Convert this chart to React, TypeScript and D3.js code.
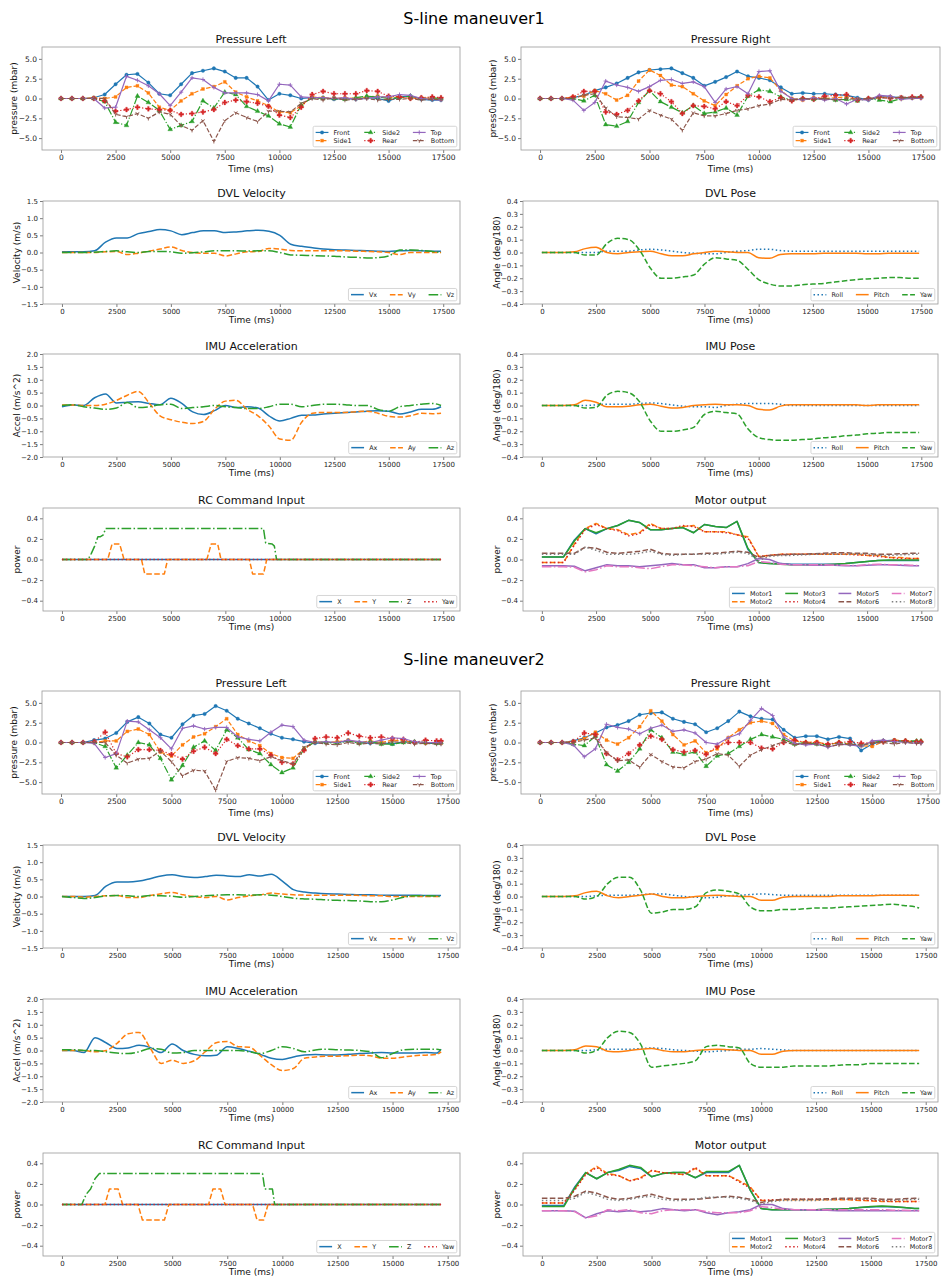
import { useEffect, useRef } from 'react';
import * as d3 from 'd3';

// time bases (ms)
const TIME_M1 = [0, 500, 1000, 1500, 2000, 2500, 3000, 3500, 4000, 4500, 5000, 5500, 6000, 6500, 7000, 7500, 8000, 8500, 9000, 9500, 10000, 10500, 11000, 11500, 12000, 12500, 13000, 13500, 14000, 14500, 15000, 15500, 16000, 16500, 17000, 17400];
const TIME_M2 = [0, 500, 1000, 1500, 2000, 2500, 3000, 3500, 4000, 4500, 5000, 5500, 6000, 6500, 7000, 7500, 8000, 8500, 9000, 9500, 10000, 10500, 11000, 11500, 12000, 12500, 13000, 13500, 14000, 14500, 15000, 15500, 16000, 16500, 17000, 17200];

// ---------- S-line maneuver1 ----------
const M1_PL_FRONT = [0, 0, 0, 0.1, 0.5, 1.8, 3.0, 3.1, 2.0, 0.6, 0.4, 1.8, 3.2, 3.5, 3.8, 3.4, 2.6, 2.6, 1.5, -0.2, 0.6, 0.4, 0.0, 0.1, 0.1, -0.1, 0.0, -0.1, 0.1, 0.0, -0.3, 0.2, 0.3, -0.1, -0.2, -0.2];
const M1_PL_SIDE1 = [0, 0, 0, 0.1, 0, 0.2, 1.4, 1.6, 0.7, -1.1, -1.5, -0.3, 0.6, 1.2, 1.5, 2.1, 0.8, 0.2, -0.3, -0.9, -1.7, -1.8, -0.9, 0.2, 0.1, 0.0, 0.1, 0.0, 0.2, 0.3, 0.1, 0.2, 0.0, 0.1, 0.0, -0.1];
const M1_PL_SIDE2 = [0, 0, 0, 0, -0.4, -3.0, -3.4, 0.3, -0.5, -1.5, -3.9, -3.4, -2.9, -0.3, -1.2, 0.8, 0.5, -1.0, -1.6, -2.2, -3.2, -3.6, -0.8, 0.1, 0.0, 0.0, -0.1, 0.1, 0.3, 0.2, 0.0, 0.1, 0.3, 0.0, 0.1, 0.0];
const M1_PL_REAR = [0, 0, 0, 0, -0.3, -1.6, -1.4, -1.1, -1.3, -1.4, -1.5, -2.0, -1.9, -1.7, -1.4, -0.5, -0.2, -0.4, -0.6, -1.0, -2.1, -2.4, -1.1, 0.5, 0.9, 0.6, 0.6, 0.6, 1.0, 0.9, 0.3, 0.2, 0.0, 0.1, 0.2, 0.1];
const M1_PL_TOP = [0, 0, 0, 0, -1.2, -1.1, 2.8, 2.3, 1.6, 0.6, -0.9, 0.8, 2.6, 2.4, 1.4, 0.7, 0.7, 0.7, 0.5, -0.3, 1.8, 1.7, 0.2, 0.1, 0.1, 0.0, 0.1, -0.1, 0.0, 0.2, 0.2, 0.5, 0.4, 0.0, -0.1, -0.2];
const M1_PL_BOTTOM = [0, 0, 0, 0, 0, -2.0, -2.3, -1.9, -2.5, -1.7, -2.0, -3.4, -4.0, -2.8, -5.4, -2.8, -1.8, -2.4, -2.9, -1.6, -1.6, -1.7, -0.6, 0.0, -0.2, 0.1, -0.2, -0.1, 0.0, -0.2, -0.1, -0.1, 0.0, -0.2, -0.1, -0.1];

const M1_PR_FRONT = [0, 0, 0, 0.1, 0.4, 1.0, 1.4, 1.9, 2.6, 3.3, 3.6, 3.7, 3.8, 3.2, 2.6, 1.6, 2.1, 2.7, 3.4, 2.8, 2.6, 2.3, 1.4, 0.6, 0.7, 0.6, 0.6, 0.5, 0.4, 0.1, -0.2, 0.2, 0.2, 0.1, 0.1, 0.2];
const M1_PR_SIDE1 = [0, 0, 0, 0.2, 0.3, 1.0, 0.6, -0.2, 0.4, 2.2, 3.6, 2.9, 1.7, 1.5, 0.6, -0.3, -0.9, 0.5, 1.6, 2.5, 2.8, 2.6, 1.0, 0.0, -0.2, 0.1, 0.0, 0.1, 0.2, -0.1, -0.1, 0.1, 0.2, 0.0, 0.1, 0.1];
const M1_PR_SIDE2 = [0, 0, 0, 0, -0.3, 0.4, -3.3, -3.5, -2.9, -0.5, 1.0, -0.4, -1.1, -1.8, -0.9, -1.9, -1.7, -1.2, -2.1, 0.3, 1.1, 0.9, 0.2, -0.2, 0.0, -0.1, 0.0, -0.2, -0.1, -0.3, 0.0, -0.2, -0.4, 0.0, 0.1, 0.2];
const M1_PR_REAR = [0, 0, 0, 0.2, 0.9, 0.9, -1.7, -2.0, -1.5, -0.3, 1.0, 0.6, -0.4, -1.9, -0.9, -1.0, -1.3, -0.4, -0.9, 0.4, 0.2, -0.4, 0.1, -0.3, 0.0, -0.1, 0.3, 0.4, 0.5, -0.2, 0.0, 0.2, 0.0, 0.1, 0.2, 0.2];
const M1_PR_TOP = [0, 0, 0, -0.2, -1.5, -0.5, 2.2, 1.7, 1.4, 0.9, 1.5, 2.3, 2.4, 1.9, 2.1, 1.5, -0.5, 1.2, 1.5, 0.6, 3.4, 3.5, 0.9, 0.0, -0.2, 0.1, -0.2, 0.0, -0.7, -0.1, -0.2, 0.4, 0.3, -0.1, 0.0, 0.0];
const M1_PR_BOTTOM = [0, 0, 0, 0, 0.4, 0.6, -1.2, -2.3, -2.4, -2.6, -1.5, -2.1, -2.6, -4.0, -1.8, -2.2, -2.2, -1.9, -1.5, -1.3, -0.9, -0.7, -0.1, -0.2, 0.0, -0.1, 0.0, -0.2, 0.0, -0.1, 0.0, 0.1, 0.0, 0.2, 0.1, 0.1];

const M1_DVL_VX = [0.02, 0.02, 0.02, 0.05, 0.3, 0.42, 0.42, 0.55, 0.61, 0.67, 0.63, 0.52, 0.58, 0.63, 0.63, 0.58, 0.6, 0.63, 0.65, 0.62, 0.5, 0.24, 0.18, 0.14, 0.1, 0.08, 0.07, 0.06, 0.05, 0.04, 0.03, 0.05, 0.06, 0.05, 0.04, 0.04];
const M1_DVL_VY = [0, 0, 0, 0, 0.02, 0.03, -0.06, -0.02, 0.04, 0.1, 0.16, 0.06, 0.0, -0.02, -0.02, -0.1, -0.04, 0.02, 0.03, 0.12, 0.1, 0.06, 0.05, 0.05, 0.05, 0.05, 0.05, 0.04, 0.03, 0.02, 0.0, -0.06, 0.0, 0.0, 0.0, 0.0];
const M1_DVL_VZ = [0, 0, 0, 0.01, 0.03, 0.05, 0.02, 0.0, 0.03, 0.03, 0.02, -0.02, -0.01, 0.02, 0.05, 0.05, 0.05, 0.04, 0.05, 0.05, 0.0, -0.07, -0.08, -0.09, -0.1, -0.11, -0.13, -0.14, -0.16, -0.15, -0.1, 0.07, 0.07, 0.06, 0.03, 0.0];

const M1_DVL_ROLL = [0, 0, 0, 0, 0, 0, 0.01, 0.01, 0.01, 0.02, 0.025, 0.02, 0.01, 0, -0.005, -0.01, -0.01, 0, 0.01, 0.015, 0.025, 0.025, 0.015, 0.01, 0.01, 0.01, 0.01, 0.01, 0.01, 0.01, 0.01, 0.01, 0.01, 0.01, 0.01, 0.01];
const M1_DVL_PITCH = [0, 0, 0, 0.005, 0.03, 0.04, 0.0, -0.01, 0.0, 0.005, 0.01, -0.01, -0.025, -0.025, -0.01, 0.0, 0.01, 0.005, 0.0, 0.0, -0.04, -0.045, -0.015, -0.01, -0.01, -0.01, -0.005, -0.005, -0.005, -0.005, -0.01, -0.01, -0.005, -0.005, -0.005, -0.005];
const M1_DVL_YAW = [0, 0, 0, 0, -0.02, -0.02, 0.07, 0.11, 0.1, 0.02, -0.12, -0.2, -0.2, -0.19, -0.175, -0.09, -0.04, -0.05, -0.06, -0.13, -0.21, -0.245, -0.26, -0.26, -0.25, -0.245, -0.24, -0.23, -0.22, -0.21, -0.205, -0.2, -0.195, -0.195, -0.2, -0.2];

const M1_IMU_AX = [-0.05, 0.02, 0.0, 0.3, 0.45, 0.1, 0.13, 0.15, 0.08, 0.03, 0.28, 0.08, -0.25, -0.35, -0.2, 0.0, -0.08, -0.05, -0.1, -0.4, -0.6, -0.5, -0.38, -0.37, -0.33, -0.3, -0.27, -0.25, -0.22, -0.2, -0.22, -0.33, -0.25, -0.15, -0.15, -0.05];
const M1_IMU_AY = [0.02, 0.02, 0.0, 0.0, 0.05, 0.2, 0.4, 0.55, 0.1, -0.4, -0.55, -0.65, -0.7, -0.62, -0.15, 0.17, 0.2, -0.15, -0.4, -0.8, -1.3, -1.35, -0.65, -0.3, -0.27, -0.27, -0.27, -0.24, -0.22, -0.3, -0.42, -0.45, -0.4, -0.3, -0.32, -0.3];
const M1_IMU_AZ = [0.0, 0.03, -0.05, -0.1, -0.15, -0.1, 0.12, -0.08, -0.05, 0.03, 0.05, -0.12, -0.08, -0.05, 0.0, -0.05, -0.08, -0.12, -0.12, -0.05, 0.05, 0.05, -0.05, 0.0, 0.05, 0.05, 0.03, 0.0, 0.0, -0.15, -0.22, -0.05, 0.0, 0.05, 0.08, 0.0];

const M1_IMU_ROLL = [0, 0, 0, 0, 0, 0.005, 0.01, 0.01, 0.01, 0.015, 0.02, 0.015, 0.005, -0.005, -0.01, -0.01, -0.015, 0, 0.01, 0.015, 0.015, 0.015, 0.01, 0, 0, 0, 0, 0, 0, 0, 0, 0, 0, 0, 0, 0];
const M1_IMU_PITCH = [0, 0, 0, 0.005, 0.04, 0.025, -0.01, -0.01, -0.005, 0.005, 0.01, -0.005, -0.02, -0.015, 0.0, 0.005, 0.01, 0.005, 0.005, 0.0, -0.03, -0.035, -0.005, 0.005, 0.005, 0.005, 0.005, 0.005, 0.005, 0.005, 0.0, 0.005, 0.005, 0.005, 0.005, 0.005];
const M1_IMU_YAW = [0, 0, 0, 0, -0.02, -0.015, 0.08, 0.11, 0.1, 0.03, -0.12, -0.2, -0.2, -0.19, -0.17, -0.07, -0.045, -0.055, -0.065, -0.18, -0.25, -0.265, -0.27, -0.27, -0.265, -0.26, -0.25, -0.245, -0.235, -0.23, -0.22, -0.215, -0.21, -0.21, -0.21, -0.21];

const M1_RC_X_T = [0, 17400];
const M1_RC_X = [0, 0];
const M1_RC_Y_T = [0, 2100, 2300, 2650, 2850, 3650, 3800, 4700, 4850, 6650, 6850, 7150, 7300, 8600, 8750, 9250, 9400, 17400];
const M1_RC_Y = [0, 0, 0.15, 0.15, 0, 0, -0.14, -0.14, 0, 0, 0.15, 0.15, 0, 0, -0.14, -0.14, 0, 0];
const M1_RC_Z_T = [0, 1200, 1350, 1500, 1650, 1750, 1900, 2000, 9250, 9350, 9650, 9750, 9850, 17400];
const M1_RC_Z = [0, 0, 0.06, 0.13, 0.22, 0.22, 0.24, 0.3, 0.3, 0.16, 0.15, 0.13, 0, 0];
const M1_RC_YAW_T = [0, 17400];
const M1_RC_YAW = [0, 0];

const M1_MOTOR1 = [0.025, 0.025, 0.025, 0.19, 0.3, 0.25, 0.3, 0.33, 0.38, 0.36, 0.29, 0.29, 0.3, 0.31, 0.26, 0.34, 0.32, 0.31, 0.37, 0.1, -0.03, -0.04, -0.04, -0.045, -0.045, -0.045, -0.045, -0.045, -0.04, -0.03, -0.02, -0.01, -0.01, -0.01, -0.01, -0.01];
const M1_MOTOR2 = [-0.03, -0.03, -0.03, 0.15, 0.3, 0.35, 0.3, 0.29, 0.24, 0.26, 0.35, 0.3, 0.3, 0.32, 0.33, 0.27, 0.27, 0.27, 0.24, 0.22, 0.03, 0.04, 0.05, 0.05, 0.05, 0.05, 0.05, 0.05, 0.05, 0.05, 0.04, 0.04, 0.02, 0.02, 0.01, 0.01];
const M1_MOTOR3 = [0.025, 0.025, 0.025, 0.18, 0.3, 0.26, 0.3, 0.33, 0.38, 0.36, 0.29, 0.29, 0.3, 0.31, 0.26, 0.34, 0.32, 0.31, 0.37, 0.11, -0.03, -0.04, -0.045, -0.05, -0.05, -0.05, -0.05, -0.045, -0.04, -0.03, -0.02, -0.01, -0.005, -0.005, -0.005, -0.005];
const M1_MOTOR4 = [-0.03, -0.03, -0.03, 0.14, 0.29, 0.34, 0.3, 0.28, 0.23, 0.25, 0.34, 0.3, 0.3, 0.33, 0.32, 0.27, 0.27, 0.26, 0.24, 0.21, 0.03, 0.04, 0.05, 0.05, 0.05, 0.05, 0.05, 0.05, 0.05, 0.045, 0.04, 0.03, 0.02, 0.01, 0.01, 0.01];
const M1_MOTOR5 = [-0.06, -0.06, -0.06, -0.065, -0.11, -0.08, -0.05, -0.06, -0.06, -0.07, -0.06, -0.05, -0.04, -0.05, -0.05, -0.08, -0.08, -0.07, -0.07, -0.04, 0.01, 0.0, -0.04, -0.05, -0.05, -0.055, -0.055, -0.055, -0.06, -0.06, -0.055, -0.05, -0.05, -0.055, -0.06, -0.06];
const M1_MOTOR6 = [0.06, 0.06, 0.06, 0.06, 0.12, 0.11, 0.07, 0.06, 0.07, 0.08, 0.1, 0.06, 0.05, 0.05, 0.05, 0.06, 0.06, 0.07, 0.08, 0.07, 0.02, 0.04, 0.045, 0.05, 0.05, 0.055, 0.06, 0.065, 0.065, 0.06, 0.06, 0.05, 0.05, 0.055, 0.06, 0.06];
const M1_MOTOR7 = [-0.07, -0.07, -0.07, -0.075, -0.12, -0.1, -0.06, -0.07, -0.07, -0.08, -0.09, -0.07, -0.05, -0.05, -0.06, -0.07, -0.08, -0.07, -0.07, -0.06, -0.02, -0.03, -0.045, -0.05, -0.05, -0.05, -0.05, -0.055, -0.055, -0.06, -0.05, -0.045, -0.05, -0.05, -0.055, -0.06];
const M1_MOTOR8 = [0.05, 0.05, 0.05, 0.05, 0.12, 0.09, 0.05, 0.05, 0.05, 0.06, 0.08, 0.05, 0.04, 0.05, 0.05, 0.05, 0.05, 0.06, 0.07, 0.06, -0.01, 0.03, 0.04, 0.04, 0.045, 0.05, 0.05, 0.05, 0.05, 0.05, 0.05, 0.04, 0.04, 0.045, 0.05, 0.05];

// ---------- S-line maneuver2 ----------
const M2_PL_FRONT = [0, 0, 0, 0.3, 0.5, 1.2, 2.6, 3.2, 2.4, 1.0, 0.6, 2.3, 3.4, 3.6, 4.6, 4.0, 3.0, 2.4, 1.8, 1.1, 0.6, 0.4, 0.1, -0.1, 0.0, 0.0, 0.2, 0.0, -0.1, 0.0, -0.2, 0.1, 0.0, -0.1, -0.1, -0.1];
const M2_PL_SIDE1 = [0, 0, 0, 0, 0.2, 0.2, 1.4, 1.7, 1.0, -1.2, -1.7, -0.3, 0.7, 1.1, 2.0, 3.0, 1.0, 0.2, -0.4, -1.4, -1.9, -2.0, -0.8, 0.1, 0.0, 0.1, 0.3, 0.0, 0.2, 0.0, 0.3, 0.2, 0.0, -0.1, 0.0, -0.1];
const M2_PL_SIDE2 = [0, 0, 0, 0, -0.5, -3.2, -1.6, 0.0, -0.3, -2.0, -4.7, -2.9, -0.6, 0.2, -1.0, 1.6, 0.6, -0.9, -1.4, -2.8, -3.8, -3.2, -0.8, 0.1, 0.0, -0.1, 0.2, -0.1, 0.1, -0.2, -0.2, 0.0, 0.1, 0.0, -0.1, 0.0];
const M2_PL_REAR = [0, 0, 0, 0.1, 1.3, -1.4, -1.8, -0.9, -0.9, -1.0, -1.5, -2.1, -1.1, -0.6, -1.4, 0.4, -0.4, -0.8, -0.8, -1.6, -2.5, -2.7, -1.0, 0.5, 0.7, 0.6, 1.2, 0.8, 0.6, 0.7, 0.5, 0.4, 0.0, 0.3, 0.2, 0.2];
const M2_PL_TOP = [0, 0, 0, -0.1, -1.9, -1.4, 2.7, 2.6, 1.6, 0.6, -0.8, 1.8, 2.1, 1.7, 1.9, 1.9, 0.7, 0.4, 0.2, 1.3, 2.2, 2.0, 0.3, 0.0, 0.1, 0.0, 0.3, 0.1, 0.0, 0.3, 0.6, 0.5, 0.1, 0.0, 0.0, -0.1];
const M2_PL_BOTTOM = [0, 0, 0, 0, 0, -1.6, -2.6, -2.1, -2.0, -1.1, -2.4, -4.2, -3.5, -3.6, -6.0, -2.4, -1.9, -2.0, -2.3, -1.8, -2.3, -2.7, -0.6, 0.0, -0.2, -0.3, 0.0, -0.2, -0.1, -0.2, 0.1, 0.0, -0.2, -0.1, -0.2, -0.2];

const M2_PR_FRONT = [0, 0, 0, 0.2, 0.6, 1.2, 1.9, 2.2, 2.7, 3.5, 3.7, 3.8, 3.0, 2.6, 2.3, 1.3, 1.8, 2.7, 3.9, 3.3, 3.0, 2.9, 1.6, 0.6, 0.8, 0.8, 0.4, 0.7, 0.5, -1.0, -0.2, 0.2, 0.3, 0.1, 0.1, 0.0];
const M2_PR_SIDE1 = [0, 0, 0, 0.1, 0.5, 1.3, 0.3, -0.2, 0.6, 2.0, 4.0, 2.7, 1.0, -0.3, 0.2, -1.3, -0.8, 0.6, 1.6, 2.5, 2.7, 2.4, 1.0, 0.2, 0.0, 0.1, -0.3, 0.0, -0.2, -0.4, -0.5, 0.1, 0.3, 0.2, 0.1, 0.1];
const M2_PR_SIDE2 = [0, 0, 0, -0.2, -0.4, 0.8, -2.8, -3.6, -2.5, -0.8, 1.6, 0.6, -1.2, -1.5, -1.2, -3.0, -1.7, -1.4, -0.5, 0.4, 1.0, 0.7, 0.4, -0.2, 0.0, -0.2, -0.3, 0.0, -0.2, -0.4, 0.0, 0.2, 0.1, 0.2, 0.2, 0.2];
const M2_PR_REAR = [0, 0, 0, 0.1, 1.2, 1.0, -1.4, -2.2, -1.4, -0.3, 0.8, 0.4, -0.9, -1.2, -1.0, -1.5, -0.5, 0.0, 0.0, 0.0, -0.7, -0.8, 0.0, 0.3, 0.0, 0.0, -0.2, 0.0, 0.1, -0.1, 0.0, 0.1, 0.2, 0.2, 0.1, 0.1];
const M2_PR_TOP = [0, 0, 0, -0.3, -1.8, -0.8, 2.3, 1.9, 1.7, 1.1, 1.8, 2.2, 1.4, 1.6, 1.2, 0.0, -0.2, 0.6, 1.1, 2.8, 4.3, 3.4, 0.7, -0.1, -0.3, -0.2, -0.6, -0.2, -0.3, -0.5, 0.2, 0.3, 0.1, 0.0, -0.1, -0.1];
const M2_PR_BOTTOM = [0, 0, 0, 0, 0.3, 0.6, -1.3, -2.3, -2.2, -3.1, -1.5, -2.4, -3.1, -3.2, -2.4, -2.1, -1.4, -1.6, -3.0, -1.6, -0.9, -0.4, 0.1, -0.3, -0.1, -0.2, -0.5, -0.3, -0.2, -0.3, -0.1, 0.0, -0.2, 0.0, -0.1, -0.1];

const M2_DVL_VX = [0.0, 0.0, 0.0, 0.03, 0.3, 0.42, 0.42, 0.45, 0.52, 0.6, 0.63, 0.58, 0.55, 0.58, 0.62, 0.6, 0.58, 0.63, 0.6, 0.65, 0.45, 0.2, 0.13, 0.1, 0.08, 0.07, 0.06, 0.05, 0.05, 0.04, 0.04, 0.04, 0.04, 0.03, 0.03, 0.03];
const M2_DVL_VY = [0, 0, -0.02, 0.0, 0.02, 0.03, -0.03, -0.03, 0.03, 0.08, 0.12, 0.05, 0.0, -0.03, 0.0, -0.1, -0.03, 0.02, 0.05, 0.1, 0.07, 0.05, 0.04, 0.04, 0.04, 0.04, 0.04, 0.03, 0.02, 0.02, 0.0, 0.0, 0.0, 0.0, 0.0, 0.0];
const M2_DVL_VZ = [0, -0.03, -0.06, -0.03, 0.02, 0.03, 0.02, 0.0, 0.03, 0.02, 0.01, -0.02, 0.0, 0.02, 0.04, 0.05, 0.05, 0.04, 0.05, 0.04, 0.0, -0.05, -0.07, -0.08, -0.1, -0.11, -0.12, -0.13, -0.15, -0.15, -0.1, -0.02, 0.02, 0.02, 0.01, 0.0];

const M2_DVL_ROLL = [0, 0, 0, 0, 0, 0.005, 0.01, 0.01, 0.01, 0.015, 0.02, 0.02, 0.01, 0, -0.005, -0.01, -0.005, 0.005, 0.01, 0.015, 0.02, 0.015, 0.01, 0.01, 0.01, 0.01, 0.01, 0.01, 0.01, 0.01, 0.01, 0.01, 0.01, 0.01, 0.01, 0.01];
const M2_DVL_PITCH = [0, 0, 0, 0.005, 0.03, 0.04, 0.005, -0.01, 0.0, 0.01, 0.02, 0.0, -0.01, -0.01, 0.0, 0.005, 0.01, 0.005, 0.0, 0.0, -0.03, -0.03, -0.005, 0, 0, 0, 0, 0.005, 0.005, 0.005, 0.005, 0.01, 0.01, 0.01, 0.01, 0.01];
const M2_DVL_YAW = [0, 0, 0, 0, -0.02, 0.0, 0.1, 0.15, 0.15, 0.05, -0.13, -0.12, -0.1, -0.1, -0.08, 0.03, 0.05, 0.04, 0.02, -0.08, -0.11, -0.11, -0.1, -0.1, -0.095, -0.09, -0.09, -0.085, -0.08, -0.075, -0.07, -0.065, -0.06, -0.07, -0.08, -0.09];

const M2_IMU_AX = [0.0, 0.0, -0.08, 0.5, 0.3, 0.08, 0.1, 0.2, 0.12, -0.08, 0.25, 0.0, -0.15, -0.2, -0.18, 0.15, 0.08, -0.03, -0.15, -0.3, -0.35, -0.25, -0.17, -0.16, -0.17, -0.17, -0.15, -0.12, -0.1, -0.08, -0.1, -0.1, -0.1, -0.08, -0.1, 0.05];
const M2_IMU_AY = [0.0, 0.0, 0.0, -0.05, 0.0, 0.28, 0.65, 0.7, 0.1, -0.5, -0.38, -0.5, -0.4, -0.05, 0.3, 0.35, 0.15, 0.13, -0.2, -0.55, -0.78, -0.7, -0.3, -0.25, -0.22, -0.22, -0.2, -0.18, -0.2, -0.3, -0.3, -0.25, -0.2, -0.18, -0.15, -0.05];
const M2_IMU_AZ = [0.03, 0.03, 0.0, 0.0, -0.05, -0.1, -0.12, -0.05, 0.08, 0.05, -0.1, -0.08, 0.0, 0.0, 0.0, 0.0, 0.0, -0.05, -0.12, 0.0, 0.15, 0.08, -0.05, 0.02, 0.05, 0.03, 0.02, 0.0, -0.05, -0.28, -0.12, 0.03, 0.05, 0.05, 0.05, 0.02];

const M2_IMU_ROLL = [0, 0, 0, 0, 0, 0.005, 0.01, 0.01, 0.01, 0.015, 0.02, 0.015, 0.005, 0, -0.005, -0.01, -0.005, 0, 0.01, 0.01, 0.015, 0.01, 0.005, 0, 0, 0, 0, 0, 0, 0, 0, 0, 0, 0, 0, 0];
const M2_IMU_PITCH = [0, 0, 0, 0.005, 0.035, 0.03, -0.005, -0.01, 0.0, 0.01, 0.015, 0.0, -0.01, -0.01, 0.0, 0.005, 0.01, 0.005, 0.0, 0.0, -0.03, -0.03, -0.005, 0, 0, 0, 0, 0, 0, 0, 0, 0, 0, 0, 0, 0];
const M2_IMU_YAW = [0, 0, 0, 0, -0.02, 0.0, 0.1, 0.15, 0.14, 0.05, -0.13, -0.12, -0.11, -0.1, -0.08, 0.03, 0.04, 0.03, 0.02, -0.1, -0.13, -0.13, -0.13, -0.12, -0.12, -0.12, -0.12, -0.115, -0.11, -0.11, -0.1, -0.1, -0.1, -0.1, -0.1, -0.1];

const M2_RC_X_T = [0, 17200];
const M2_RC_X = [0, 0];
const M2_RC_Y_T = [0, 1950, 2150, 2550, 2750, 3450, 3650, 4650, 4850, 6650, 6850, 7200, 7400, 8650, 8850, 9150, 9350, 17200];
const M2_RC_Y = [0, 0, 0.15, 0.15, 0, 0, -0.15, -0.15, 0, 0, 0.15, 0.15, 0, 0, -0.15, -0.15, 0, 0];
const M2_RC_Z_T = [0, 900, 1100, 1300, 1500, 1700, 9100, 9200, 9550, 9650, 17200];
const M2_RC_Z = [0, 0, 0.1, 0.15, 0.25, 0.3, 0.3, 0.15, 0.15, 0, 0];
const M2_RC_YAW_T = [0, 17200];
const M2_RC_YAW = [0, 0];

const M2_MOTOR1 = [-0.01, -0.01, -0.01, 0.17, 0.31, 0.25, 0.31, 0.33, 0.37, 0.35, 0.27, 0.3, 0.31, 0.31, 0.26, 0.31, 0.31, 0.31, 0.38, 0.14, -0.04, -0.05, -0.05, -0.05, -0.05, -0.05, -0.045, -0.045, -0.04, -0.03, -0.025, -0.02, -0.025, -0.03, -0.04, -0.04];
const M2_MOTOR2 = [0.015, 0.015, 0.015, 0.15, 0.3, 0.37, 0.3, 0.28, 0.23, 0.26, 0.33, 0.31, 0.3, 0.29, 0.35, 0.28, 0.28, 0.28, 0.23, 0.17, 0.04, 0.04, 0.045, 0.045, 0.045, 0.045, 0.045, 0.045, 0.045, 0.04, 0.035, 0.03, 0.03, 0.03, 0.03, 0.03];
const M2_MOTOR3 = [-0.02, -0.02, -0.02, 0.16, 0.31, 0.25, 0.31, 0.34, 0.38, 0.36, 0.27, 0.3, 0.31, 0.31, 0.26, 0.32, 0.32, 0.32, 0.38, 0.14, -0.04, -0.05, -0.05, -0.05, -0.05, -0.05, -0.045, -0.045, -0.04, -0.03, -0.02, -0.015, -0.02, -0.03, -0.04, -0.04];
const M2_MOTOR4 = [0.015, 0.015, 0.015, 0.14, 0.29, 0.36, 0.29, 0.28, 0.23, 0.25, 0.33, 0.31, 0.3, 0.29, 0.36, 0.28, 0.28, 0.28, 0.22, 0.16, 0.04, 0.045, 0.05, 0.05, 0.05, 0.05, 0.05, 0.05, 0.05, 0.045, 0.04, 0.035, 0.03, 0.03, 0.03, 0.03];
const M2_MOTOR5 = [-0.06, -0.06, -0.06, -0.065, -0.13, -0.09, -0.06, -0.07, -0.06, -0.07, -0.06, -0.04, -0.05, -0.06, -0.05, -0.08, -0.1, -0.08, -0.07, -0.05, 0.0, 0.0, -0.04, -0.05, -0.05, -0.055, -0.055, -0.06, -0.06, -0.06, -0.06, -0.06, -0.06, -0.06, -0.06, -0.06];
const M2_MOTOR6 = [0.06, 0.06, 0.06, 0.08, 0.13, 0.11, 0.07, 0.05, 0.06, 0.08, 0.1, 0.07, 0.05, 0.05, 0.05, 0.06, 0.07, 0.08, 0.07, 0.05, 0.02, 0.04, 0.05, 0.05, 0.05, 0.05, 0.055, 0.06, 0.06, 0.06, 0.06, 0.05, 0.05, 0.055, 0.06, 0.06];
const M2_MOTOR7 = [-0.06, -0.06, -0.06, -0.07, -0.13, -0.11, -0.05, -0.06, -0.05, -0.08, -0.09, -0.06, -0.05, -0.05, -0.05, -0.07, -0.08, -0.08, -0.08, -0.06, -0.02, -0.03, -0.045, -0.05, -0.05, -0.05, -0.05, -0.05, -0.05, -0.05, -0.05, -0.05, -0.055, -0.055, -0.06, -0.06];
const M2_MOTOR8 = [0.04, 0.04, 0.04, 0.06, 0.12, 0.09, 0.05, 0.04, 0.05, 0.07, 0.08, 0.05, 0.04, 0.04, 0.05, 0.07, 0.07, 0.07, 0.06, 0.04, 0.0, 0.03, 0.04, 0.04, 0.04, 0.04, 0.045, 0.05, 0.05, 0.05, 0.05, 0.04, 0.04, 0.045, 0.05, 0.05];

// ticks and labels
const X_TICKS = [0, 2500, 5000, 7500, 10000, 12500, 15000, 17500];
const PRESSURE_TICKS = [-5, -2.5, 0, 2.5, 5];
const VELOCITY_TICKS = [-1.5, -1, -0.5, 0, 0.5, 1, 1.5];
const ANGLE_TICKS = [-0.4, -0.3, -0.2, -0.1, 0, 0.1, 0.2, 0.3, 0.4];
const ACCEL_TICKS = [-2, -1.5, -1, -0.5, 0, 0.5, 1, 1.5, 2];
const POWER_TICKS = [-0.4, -0.2, 0, 0.2, 0.4];
const PRESSURE_NAMES = ['Front', 'Side1', 'Side2', 'Rear', 'Top', 'Bottom'];
const VEL_NAMES = ['Vx', 'Vy', 'Vz'];
const POSE_NAMES = ['Roll', 'Pitch', 'Yaw'];
const ACC_NAMES = ['Ax', 'Ay', 'Az'];
const RC_NAMES = ['X', 'Y', 'Z', 'Yaw'];
const MOTOR_NAMES = ['Motor1', 'Motor2', 'Motor3', 'Motor4', 'Motor5', 'Motor6', 'Motor7', 'Motor8'];

const W = 948;
const H = 1284;
const FONT = "'DejaVu Sans', sans-serif";
const C = d3.schemeCategory10;

const PRESS_STYLE = [
  { color: C[0], dash: 'solid', marker: 'o' },
  { color: C[1], dash: 'dash', marker: 's' },
  { color: C[2], dash: 'dashdot', marker: '^' },
  { color: C[3], dash: 'dot', marker: 'P' },
  { color: C[4], dash: 'solid', marker: '+' },
  { color: C[5], dash: 'dash', marker: '1' },
];
const TRIPLE_STYLE = [
  { color: C[0], dash: 'solid' },
  { color: C[1], dash: 'dash' },
  { color: C[2], dash: 'dashdot' },
];
const POSE_STYLE = [
  { color: C[0], dash: 'dot' },
  { color: C[1], dash: 'solid' },
  { color: C[2], dash: 'dash' },
];
const RC_STYLE = [
  { color: C[0], dash: 'solid' },
  { color: C[1], dash: 'dash' },
  { color: C[2], dash: 'dashdot' },
  { color: C[3], dash: 'dot' },
];
const MOTOR_STYLE = [
  { color: C[0], dash: 'solid' },
  { color: C[1], dash: 'dash' },
  { color: C[2], dash: 'solid' },
  { color: C[3], dash: 'dot' },
  { color: C[4], dash: 'solid' },
  { color: C[5], dash: 'dash' },
  { color: C[6], dash: 'dashdot' },
  { color: C[7], dash: 'dot' },
];

function makePanel(title, yLabel, yDomain, yTicks, names, styles, times, values, opts) {
  return {
    title, yLabel, yDomain, yTicks,
    ncol: opts.ncol, big: !!opts.big, smooth: !!opts.smooth, tMax: opts.tMax,
    series: values.map((v, i) => ({
      name: names[i], t: times[i], v, lw: opts.lw || 1.5, ...styles[i],
    })),
  };
}

function buildPanels(T, tMax, d) {
  const same = n => d3.range(n).map(() => T);
  return [
    makePanel('Pressure Left', 'pressure (mbar)', [-6.5, 6.5], PRESSURE_TICKS, PRESSURE_NAMES, PRESS_STYLE, same(6), d.pl, { ncol: 3, big: true, lw: 1.2, tMax }),
    makePanel('Pressure Right', 'press0ure (mbar)', [-6.5, 6.5], PRESSURE_TICKS, PRESSURE_NAMES, PRESS_STYLE, same(6), d.pr, { ncol: 3, big: true, lw: 1.2, tMax }),
    makePanel('DVL Velocity', 'Velocity (m/s)', [-1.5, 1.5], VELOCITY_TICKS, VEL_NAMES, TRIPLE_STYLE, same(3), d.vel, { ncol: 3, smooth: true, tMax }),
    makePanel('DVL Pose', 'Angle (deg/180)', [-0.4, 0.4], ANGLE_TICKS, POSE_NAMES, POSE_STYLE, same(3), d.dpose, { ncol: 3, smooth: true, tMax }),
    makePanel('IMU Acceleration', 'Accel (m/s^2)', [-2, 2], ACCEL_TICKS, ACC_NAMES, TRIPLE_STYLE, same(3), d.acc, { ncol: 3, smooth: true, tMax }),
    makePanel('IMU Pose', 'Angle (deg/180)', [-0.4, 0.4], ANGLE_TICKS, POSE_NAMES, POSE_STYLE, same(3), d.ipose, { ncol: 3, smooth: true, tMax }),
    makePanel('RC Command Input', 'power', [-0.5, 0.5], POWER_TICKS, RC_NAMES, RC_STYLE, d.rcT, d.rc, { ncol: 4, tMax }),
    makePanel('Motor output', 'power', [-0.5, 0.5], POWER_TICKS, MOTOR_NAMES, MOTOR_STYLE, same(8), d.motor, { ncol: 4, tMax }),
  ];
}

const MANEUVERS = [
  {
    title: 'S-line maneuver1',
    panels: buildPanels(TIME_M1, 17400, {
      pl: [M1_PL_FRONT, M1_PL_SIDE1, M1_PL_SIDE2, M1_PL_REAR, M1_PL_TOP, M1_PL_BOTTOM],
      pr: [M1_PR_FRONT, M1_PR_SIDE1, M1_PR_SIDE2, M1_PR_REAR, M1_PR_TOP, M1_PR_BOTTOM],
      vel: [M1_DVL_VX, M1_DVL_VY, M1_DVL_VZ],
      dpose: [M1_DVL_ROLL, M1_DVL_PITCH, M1_DVL_YAW],
      acc: [M1_IMU_AX, M1_IMU_AY, M1_IMU_AZ],
      ipose: [M1_IMU_ROLL, M1_IMU_PITCH, M1_IMU_YAW],
      rcT: [M1_RC_X_T, M1_RC_Y_T, M1_RC_Z_T, M1_RC_YAW_T],
      rc: [M1_RC_X, M1_RC_Y, M1_RC_Z, M1_RC_YAW],
      motor: [M1_MOTOR1, M1_MOTOR2, M1_MOTOR3, M1_MOTOR4, M1_MOTOR5, M1_MOTOR6, M1_MOTOR7, M1_MOTOR8],
    }),
  },
  {
    title: 'S-line maneuver2',
    panels: buildPanels(TIME_M2, 17200, {
      pl: [M2_PL_FRONT, M2_PL_SIDE1, M2_PL_SIDE2, M2_PL_REAR, M2_PL_TOP, M2_PL_BOTTOM],
      pr: [M2_PR_FRONT, M2_PR_SIDE1, M2_PR_SIDE2, M2_PR_REAR, M2_PR_TOP, M2_PR_BOTTOM],
      vel: [M2_DVL_VX, M2_DVL_VY, M2_DVL_VZ],
      dpose: [M2_DVL_ROLL, M2_DVL_PITCH, M2_DVL_YAW],
      acc: [M2_IMU_AX, M2_IMU_AY, M2_IMU_AZ],
      ipose: [M2_IMU_ROLL, M2_IMU_PITCH, M2_IMU_YAW],
      rcT: [M2_RC_X_T, M2_RC_Y_T, M2_RC_Z_T, M2_RC_YAW_T],
      rc: [M2_RC_X, M2_RC_Y, M2_RC_Z, M2_RC_YAW],
      motor: [M2_MOTOR1, M2_MOTOR2, M2_MOTOR3, M2_MOTOR4, M2_MOTOR5, M2_MOTOR6, M2_MOTOR7, M2_MOTOR8],
    }),
  },
];

const SUPTITLE_Y = [24, 665];
const ROW_TOPS = [[47, 201, 354, 508], [691, 845, 999, 1153]];
const PANEL_H = 103;

function panelBox(mi, row, col) {
  const y0 = ROW_TOPS[mi][row];
  let xs;
  if (row === 0) xs = col === 0 ? [42, 460] : [521, 940];
  else xs = col === 0 ? [43, 460] : [523, 938];
  return { x0: xs[0], x1: xs[1], y0, y1: y0 + PANEL_H };
}

function dashFor(kind, lw) {
  if (kind === 'dash') return `${3.7 * lw},${1.6 * lw}`;
  if (kind === 'dashdot') return `${6.4 * lw},${1.6 * lw},${lw},${1.6 * lw}`;
  if (kind === 'dot') return `${lw},${1.65 * lw}`;
  return null;
}

const MARKERS = {
  o: { d: d3.symbol(d3.symbolCircle, 10)(), fill: true },
  s: { d: d3.symbol(d3.symbolSquare, 9)(), fill: true },
  '^': { d: d3.symbol(d3.symbolTriangle, 10)(), fill: true },
  P: { d: d3.symbol(d3.symbolCross, 13)(), fill: true },
  '+': { d: 'M-2.1,0H2.1M0,-2.1V2.1', fill: false },
  '1': { d: 'M0,0V2.2M0,0L-1.9,-1.1M0,0L1.9,-1.1', fill: false },
};

function drawMarker(g, type, color, cx, cy) {
  const m = MARKERS[type];
  g.append('path')
    .attr('d', m.d)
    .attr('transform', `translate(${cx},${cy})`)
    .attr('fill', m.fill ? color : 'none')
    .attr('stroke', color)
    .attr('stroke-width', m.fill ? 0.3 : 0.9);
}

function drawLegend(g, p, x1, y1) {
  const f = 6.4, pad = 0.4 * f, handle = 2 * f, hpad = 0.8 * f, colsp = 2 * f;
  const rowH = 7.2, rowGap = 1;
  const n = p.series.length;
  const nrows = Math.ceil(n / p.ncol);
  const lg = g.append('g');
  const frame = lg.append('rect');
  const texts = p.series.map(s => lg.append('text')
    .attr('font-family', FONT).attr('font-size', f).attr('fill', '#222').text(s.name));
  const widths = texts.map(t => t.node().getComputedTextLength());
  const colW = d3.range(p.ncol).map(c =>
    handle + hpad + (d3.max(widths.filter((_, i) => Math.floor(i / nrows) === c)) || 0));
  const lw = 2 * pad + d3.sum(colW) + (p.ncol - 1) * colsp;
  const lh = 2 * pad + nrows * rowH + (nrows - 1) * rowGap;
  const lx = x1 - 0.5 * f - lw;
  const ly = y1 - 0.5 * f - lh;
  frame.attr('x', lx).attr('y', ly).attr('width', lw).attr('height', lh).attr('rx', 1.5)
    .attr('fill', '#fff').attr('fill-opacity', 0.8).attr('stroke', '#ccc').attr('stroke-width', 0.8);

  p.series.forEach((s, i) => {
    const c = Math.floor(i / nrows), r = i % nrows;
    const cx = lx + pad + d3.sum(colW.slice(0, c)) + c * colsp;
    const cy = ly + pad + r * (rowH + rowGap) + rowH / 2;
    lg.append('line')
      .attr('x1', cx).attr('x2', cx + handle).attr('y1', cy).attr('y2', cy)
      .attr('stroke', s.color).attr('stroke-width', s.lw)
      .attr('stroke-dasharray', dashFor(s.dash, s.lw));
    if (s.marker) drawMarker(lg, s.marker, s.color, cx + handle / 2, cy);
    texts[i].attr('x', cx + handle + hpad).attr('y', cy).attr('dy', '0.35em');
  });
}

function drawPanel(svg, p, box) {
  const { x0, x1, y0, y1 } = box;
  const pad = p.tMax * 0.05;
  const x = d3.scaleLinear().domain([-pad, p.tMax + pad]).range([x0, x1]);
  const y = d3.scaleLinear().domain(p.yDomain).range([y1, y0]);
  const g = svg.append('g');
  const tickFont = p.big ? 7.5 : 7;

  const xa = g.append('g').attr('transform', `translate(0,${y1})`)
    .call(d3.axisBottom(x).tickValues(X_TICKS).tickSize(3).tickPadding(p.big ? 1.5 : 2).tickFormat(d3.format('d')));
  const ya = g.append('g').attr('transform', `translate(${x0},0)`)
    .call(d3.axisLeft(y).tickValues(p.yTicks).tickSize(3).tickPadding(2).tickFormat(d3.format('.1f')));
  [xa, ya].forEach(a => {
    a.select('.domain').remove();
    a.attr('font-family', FONT).attr('font-size', tickFont);
    a.selectAll('line').attr('stroke', '#444').attr('stroke-width', 0.7);
    a.selectAll('text').attr('fill', '#222');
  });

  const line = d3.line()
    .x(d => x(d[0]))
    .y(d => y(d[1]))
    .curve(p.smooth ? d3.curveMonotoneX : d3.curveLinear);

  p.series.forEach(s => {
    const pts = s.t.map((t, i) => [t, s.v[i]]);
    g.append('path')
      .attr('d', line(pts))
      .attr('fill', 'none')
      .attr('stroke', s.color)
      .attr('stroke-width', s.lw)
      .attr('stroke-dasharray', dashFor(s.dash, s.lw))
      .attr('stroke-linejoin', 'round');
    if (s.marker) pts.forEach(pt => drawMarker(g, s.marker, s.color, x(pt[0]), y(pt[1])));
  });

  g.append('rect')
    .attr('x', x0).attr('y', y0).attr('width', x1 - x0).attr('height', y1 - y0)
    .attr('fill', 'none').attr('stroke', '#999').attr('stroke-width', 0.8);

  g.append('text')
    .attr('x', (x0 + x1) / 2).attr('y', y0 - 4)
    .attr('text-anchor', 'middle').attr('font-family', FONT).attr('font-size', 11).attr('fill', '#111')
    .text(p.title);
  g.append('text')
    .attr('x', (x0 + x1) / 2).attr('y', y1 + (p.big ? 21.5 : 19))
    .attr('text-anchor', 'middle').attr('font-family', FONT).attr('font-size', 9).attr('fill', '#111')
    .text('Time (ms)');
  const yl = x0 - (p.big ? 28 : 26);
  g.append('text')
    .attr('transform', `translate(${yl},${(y0 + y1) / 2}) rotate(-90)`)
    .attr('text-anchor', 'middle').attr('dy', '0.35em')
    .attr('font-family', FONT).attr('font-size', 9).attr('fill', '#111')
    .text(p.yLabel);

  drawLegend(g, p, x1, y1);
}

export default function App() {
  const ref = useRef(null);

  useEffect(() => {
    document.body.style.margin = '0';
    const svg = d3.select(ref.current);
    svg.selectAll('*').remove();
    svg.append('rect').attr('width', W).attr('height', H).attr('fill', '#fff');

    MANEUVERS.forEach((m, mi) => {
      svg.append('text')
        .attr('x', W / 2).attr('y', SUPTITLE_Y[mi])
        .attr('text-anchor', 'middle').attr('font-family', FONT).attr('font-size', 16).attr('fill', '#000')
        .text(m.title);
      m.panels.forEach((p, pi) => {
        const row = Math.floor(pi / 2), col = pi % 2;
        drawPanel(svg, p, panelBox(mi, row, col));
      });
    });
  }, []);

  return <svg ref={ref} width={W} height={H} style={{ display: 'block' }} />;
}
